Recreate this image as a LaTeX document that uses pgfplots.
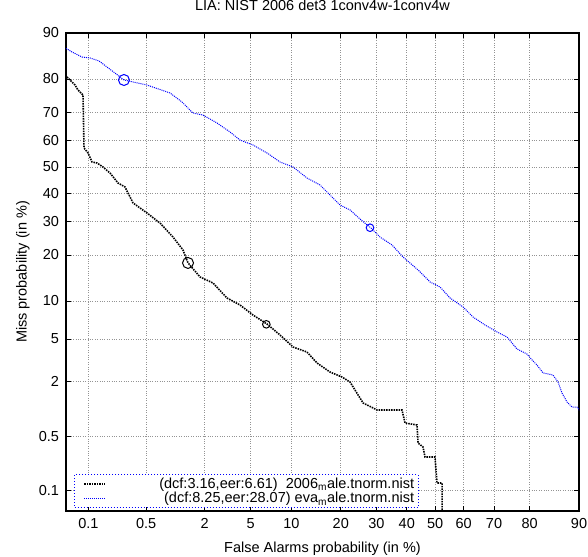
\documentclass[border=0pt]{standalone}
\usepackage{pgfplots}
\pgfplotsset{compat=1.18}
\usepackage{pgfplotstable}
\usepackage{fontspec}
\setmainfont{Liberation Sans}

% DET curves, coordinates given as normal deviates (probit of the probability)
\pgfplotstableread{
x y
-3.290 1.135
-3.237 1.100
-3.148 1.052
-3.077 1.043
-2.996 1.014
-2.925 0.956
-2.854 0.899
-2.774 0.832
-2.569 0.784
-2.364 0.708
-2.257 0.622
-2.159 0.516
-2.070 0.497
-1.945 0.421
-1.829 0.335
-1.740 0.258
-1.624 0.210
-1.499 0.134
-1.383 0.048
-1.267 0.000
-1.143 -0.105
-1.027 -0.172
-0.955 -0.249
-0.848 -0.364
-0.759 -0.411
-0.670 -0.498
-0.572 -0.584
-0.492 -0.670
-0.385 -0.746
-0.287 -0.861
-0.153 -0.985
-0.046 -1.100
0.043 -1.148
0.132 -1.253
0.248 -1.339
0.337 -1.435
0.444 -1.511
0.551 -1.578
0.640 -1.626
0.685 -1.684
0.729 -1.741
0.818 -1.789
0.863 -1.846
0.907 -1.894
0.961 -1.970
1.050 -1.990
1.095 -2.057
1.130 -2.162
1.175 -2.248
1.219 -2.296
1.264 -2.296
1.300 -2.350
}\evadata

\pgfplotstableread{
x y
-3.282 0.861
-3.255 0.832
-3.210 0.784
-3.184 0.736
-3.139 0.689
-3.130 0.182
-3.094 0.134
-3.059 0.048
-3.014 0.038
-2.961 0.000
-2.898 -0.058
-2.827 -0.153
-2.765 -0.191
-2.693 -0.344
-2.569 -0.440
-2.453 -0.536
-2.337 -0.670
-2.248 -0.794
-2.203 -0.918
-2.096 -1.052
-1.980 -1.110
-1.856 -1.253
-1.740 -1.320
-1.624 -1.416
-1.499 -1.502
-1.383 -1.607
-1.267 -1.722
-1.143 -1.770
-1.053 -1.875
-0.938 -1.961
-0.831 -2.009
-0.759 -2.057
-0.715 -2.133
-0.643 -2.257
-0.519 -2.324
-0.296 -2.324
-0.269 -2.449
-0.162 -2.468
-0.153 -2.640
-0.109 -2.678
-0.091 -2.774
-0.002 -2.774
0.016 -3.023
0.061 -3.023
0.061 -3.600
}\maledata

\newcommand\chfont{\fontsize{14.5pt}{16pt}\selectfont}

\begin{document}
\begin{tikzpicture}
\useasboundingbox (-66pt,-45pt) rectangle (522pt,511pt);
\begin{axis}[
  scale only axis,
  width=513pt, height=478pt,
  xmin=-3.2905, xmax=1.2816,
  ymin=-3.2905, ymax=1.2816,
  xtick={-3.0902,-2.5758,-2.0537,-1.6449,-1.2816,-0.8416,-0.5244,-0.2533,0,0.2533,0.5244,0.8416,1.2816},
  xticklabels={0.1,0.5,2,5,10,20,30,40,50,60,70,80,90},
  ytick={-3.0902,-2.5758,-2.0537,-1.6449,-1.2816,-0.8416,-0.5244,-0.2533,0,0.2533,0.5244,0.8416,1.2816},
  yticklabels={0.1,0.5,2,5,10,20,30,40,50,60,70,80,90},
  grid=major,
  major grid style={gray!85, dotted, line width=0.8pt},
  axis line style={line width=1.1pt},
  tick align=inside,
  major tick length=5pt,
  tick style={black, line width=0.8pt},
  tick label style={font=\chfont},
  xticklabel style={yshift=-4pt},
  yticklabel style={xshift=-3.5pt},
  label style={font=\chfont},
  xlabel={False Alarms probability (in \%)},
  ylabel={Miss probability (in \%)},
  xlabel style={at={(axis description cs:0.5,-0.057)}, anchor=north},
  ylabel style={at={(axis description cs:-0.064,0.5)}, anchor=south},
  title={LIA: NIST 2006 det3 1conv4w-1conv4w},
  title style={font=\chfont, at={(axis description cs:0.5,1)}, anchor=base, yshift=16pt},
  legend style={
    at={(axis description cs:0.0156,0.0063)}, anchor=south west,
    draw=blue, dotted, line width=1pt,
    inner xsep=0pt, inner ysep=3pt,
    nodes={inner sep=0pt, font=\chfont},
    row sep=2.5pt,
  },
  legend image code/.code={\path (0pt,0pt); \draw[#1] (9pt,0pt) -- (30pt,0pt);},
]
\addplot[black, line width=1.6pt, dash pattern=on 1.5pt off 1pt] table {\maledata};
\addlegendentry{\makebox[312pt][r]{(dcf:3.16,eer:6.61)\ \ 2006\textsubscript{m}ale.tnorm.nist\hspace{4pt}}}
\addplot[blue, line width=1pt, dash pattern=on 1pt off 1pt] table {\evadata};
\addlegendentry{\makebox[312pt][r]{(dcf:8.25,eer:28.07) eva\textsubscript{m}ale.tnorm.nist\hspace{4pt}}}

% dcf and eer operating points
\addplot[black, only marks, mark=o, mark size=5.5pt, mark options={solid, line width=1pt}, forget plot] coordinates {(-2.203,-0.918)};
\addplot[black, only marks, mark=o, mark size=3.8pt, mark options={solid, line width=1pt}, forget plot] coordinates {(-1.505,-1.505)};
\addplot[blue, only marks, mark=o, mark size=5.5pt, mark options={solid, line width=1pt}, forget plot] coordinates {(-2.774,0.832)};
\addplot[blue, only marks, mark=o, mark size=3.8pt, mark options={solid, line width=1pt}, forget plot] coordinates {(-0.581,-0.581)};
\end{axis}
\end{tikzpicture}
\end{document}
